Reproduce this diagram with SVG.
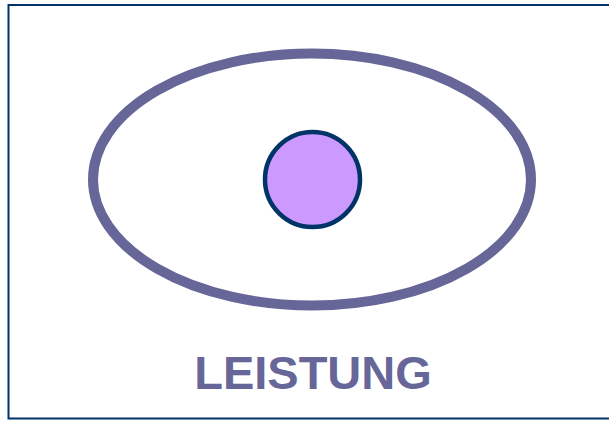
<svg xmlns="http://www.w3.org/2000/svg" width="609" height="421" viewBox="0 0 609 421">
  <style>
    .frame { fill: #ffffff; stroke: #003366; stroke-width: 2; }
    .outer { fill: none; stroke: #666699; stroke-width: 10; }
    .inner { fill: #cc99ff; stroke: #003366; stroke-width: 4.5; }
    .label { font-family: "Liberation Sans", Arial, sans-serif; font-weight: bold; font-size: 47px; fill: #666699; text-anchor: middle; }
  </style>
  <rect class="frame" x="8.5" y="5" width="610" height="413.5"/>
  <g id="outer-ellipse">
    <ellipse class="outer" cx="312" cy="179.5" rx="219" ry="126"/>
  </g>
  <g id="inner-circle">
    <circle class="inner" cx="312.5" cy="179.5" r="47.5"/>
  </g>
  <g id="connectors"/>
  <g id="label">
    <text class="label" x="313" y="388.5">LEISTUNG</text>
  </g>
</svg>
